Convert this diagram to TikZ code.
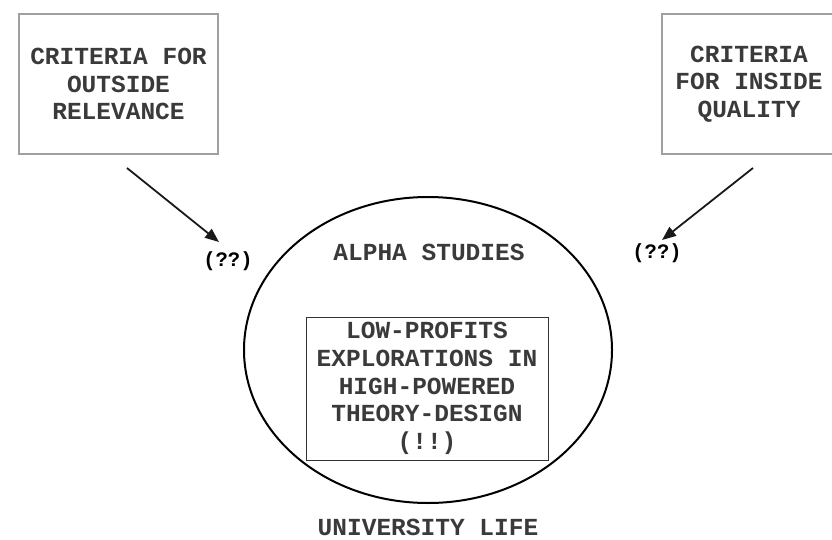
\documentclass[tikz,border=0pt]{standalone}
\usepackage{fontspec}
\setmainfont{Liberation Mono}
\usetikzlibrary{arrows.meta,shapes.geometric}
\definecolor{txtgray}{HTML}{3A3A3A}
\definecolor{boxgray}{HTML}{A0A0A0}
\begin{document}
\begin{tikzpicture}[x=1pt,y=-1pt,
  lbl/.style={font=\bfseries\fontsize{24.5}{27.6}\selectfont, text=txtgray, align=center, inner sep=0pt},
  qq/.style={font=\bfseries\fontsize{20.5}{24}\selectfont, text=black, inner sep=0pt},
  critbox/.style={draw=boxgray, line width=1.5pt, lbl, minimum height=140pt},
  arr/.style={line width=1.8pt, -{Triangle[length=14pt,width=11pt]}, draw=black!90}
]
\useasboundingbox (0,0) rectangle (832,540);
\node[critbox, minimum width=199pt] (outside) at (118.5,84) {CRITERIA FOR\\OUTSIDE\\RELEVANCE};
\node[critbox, minimum width=174pt] (inside) at (749,84) {CRITERIA\\FOR INSIDE\\QUALITY};
\node[ellipse, draw=black, line width=2pt, minimum width=368pt, minimum height=306pt, inner sep=0pt] (alpha) at (428,350) {};
\node[lbl] (alphalbl) at (429,252) {ALPHA STUDIES};
\node[lbl, draw=black!80, line width=1pt, minimum width=242pt, minimum height=143pt] (low) at (427,388.5) {LOW-PROFITS\\EXPLORATIONS IN\\HIGH-POWERED\\THEORY-DESIGN\\(!!)};
\node[lbl] (univ) at (428,527) {UNIVERSITY LIFE};
\node[qq] (q1) at (228,261) {(??)};
\node[qq] (q2) at (657,253) {(??)};
\coordinate (a1s) at (127,168);
\coordinate (a1e) at (219,242);
\coordinate (a2s) at (753,168);
\coordinate (a2e) at (662,240);
\draw[arr] (a1s) -- (a1e);
\draw[arr] (a2s) -- (a2e);
\end{tikzpicture}
\end{document}
